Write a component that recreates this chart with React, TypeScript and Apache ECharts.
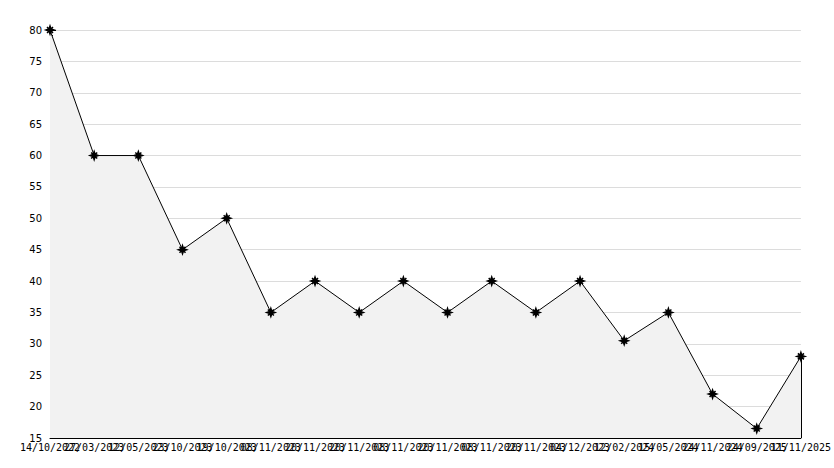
import React, { useEffect, useRef } from "react";
import * as echarts from "echarts";

const categories = [
  "14/10/2022", "27/03/2023", "12/05/2023", "23/10/2023", "19/10/2023", "08/11/2023",
  "20/11/2023", "20/11/2023", "08/11/2023", "20/11/2023", "08/11/2023", "20/11/2023",
  "04/12/2023", "12/02/2024", "15/05/2024", "24/11/2024", "24/09/2025", "11/11/2025",
];
const values = [80, 60, 60, 45, 50, 35, 40, 35, 40, 35, 40, 35, 40, 30.5, 35, 22, 16.5, 28];
const yMin = 15;
const yMax = 80;
const yStep = 5;

export default function App() {
  const ref = useRef<HTMLDivElement>(null);
  useEffect(() => {
    document.body.style.margin = "0";
    const chart = echarts.init(ref.current!, null, { renderer: "svg" });
    const last = categories.length - 1;
    chart.setOption({
      animation: false,
      backgroundColor: "#ffffff",
      grid: { left: 50, top: 30, width: 755, height: 408, containLabel: false },
      xAxis: {
        type: "category",
        data: categories,
        boundaryGap: false,
        axisLine: { show: true, lineStyle: { color: "#000", width: 1 } },
        axisTick: { show: true, inside: true, length: 5, alignWithLabel: true, lineStyle: { color: "#000" } },
        axisLabel: {
          interval: 0,
          margin: 4,
          fontFamily: "DejaVu Sans Mono",
          fontSize: 10,
          color: "#000",
        },
        splitLine: { show: false },
      },
      yAxis: {
        type: "value",
        min: yMin,
        max: yMax,
        interval: yStep,
        axisLine: { show: true, lineStyle: { color: "#000", width: 1 } },
        axisTick: { show: true, inside: true, length: 6, lineStyle: { color: "#000" } },
        minorTick: { show: true, splitNumber: 6, length: 3, lineStyle: { color: "#000" } },
        axisLabel: {
          margin: 8,
          fontFamily: "DejaVu Sans",
          fontSize: 10,
          color: "#000",
        },
        splitLine: { show: true, lineStyle: { color: "#dcdcdc", width: 1 } },
      },
      series: [
        {
          type: "line",
          data: values,
          symbol: "path://M0,-4L1,-1L4,0L1,1L0,4L-1,1L-4,0L-1,-1Z M-3,-3L3,3 M3,-3L-3,3",
          symbolSize: 8,
          itemStyle: { color: "#000", borderColor: "#000", borderWidth: 1.5 },
          lineStyle: { color: "#000", width: 1 },
          areaStyle: { color: "#f2f2f2", opacity: 1, origin: "start" },
          markLine: {
            silent: true,
            symbol: "none",
            label: { show: false },
            lineStyle: { color: "#000", width: 1, type: "solid" },
            data: [[{ coord: [last, values[last]] }, { coord: [last, yMin] }]],
          },
        },
      ],
    });
    return () => chart.dispose();
  }, []);
  return <div ref={ref} style={{ width: 834, height: 468 }} />;
}
